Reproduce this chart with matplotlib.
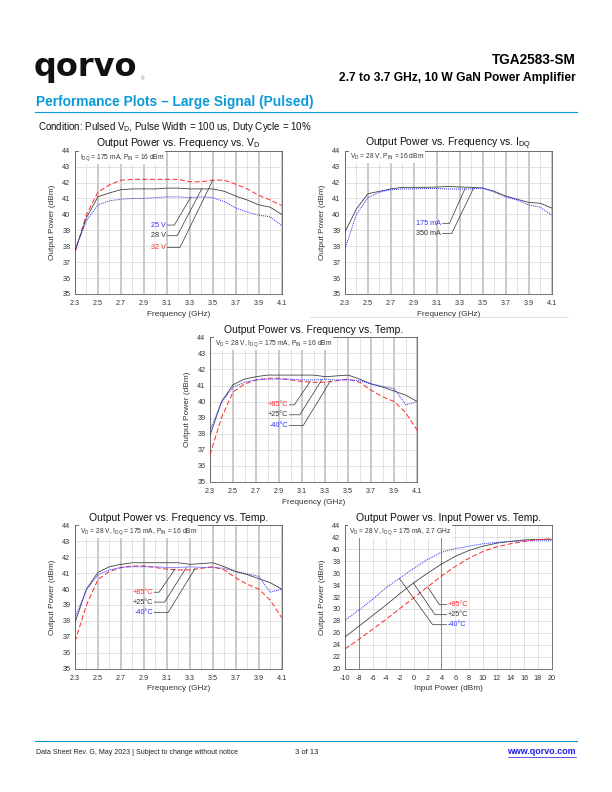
import matplotlib
matplotlib.use("Agg")
import matplotlib.pyplot as plt
from matplotlib.ticker import MultipleLocator, FixedLocator
from matplotlib.transforms import offset_copy

plt.rcParams['font.family'] = ['Liberation Sans', 'DejaVu Sans']
plt.rcParams['axes.unicode_minus'] = False
plt.rcParams['mathtext.fontset'] = 'custom'
plt.rcParams['mathtext.rm'] = 'Liberation Sans'

W, H = 612, 792

# ---------------- data ----------------
freq = [2.3, 2.4, 2.5, 2.6, 2.7, 2.8, 2.9, 3.0, 3.1, 3.2, 3.3, 3.4, 3.5, 3.6, 3.7, 3.8, 3.9, 4.0, 4.1]
freq_ticks = [2.3, 2.5, 2.7, 2.9, 3.1, 3.3, 3.5, 3.7, 3.9, 4.1]
freq_minor = [2.4, 2.6, 2.8, 3.0, 3.2, 3.4, 3.6, 3.8, 4.0]

# Chart 1: Pout vs freq vs VD
pout_25v = [37.8, 39.6, 40.6, 40.85, 40.95, 41.0, 41.0, 41.05, 41.1, 41.1, 41.05, 41.1, 41.05, 40.8, 40.4, 40.15, 39.95, 39.85, 39.3]
pout_28v = [37.7, 39.8, 41.1, 41.35, 41.55, 41.6, 41.6, 41.6, 41.65, 41.65, 41.6, 41.6, 41.6, 41.45, 41.15, 40.9, 40.6, 40.45, 40.0]
pout_32v = [37.6, 40.0, 41.4, 41.85, 42.15, 42.2, 42.2, 42.2, 42.2, 42.2, 42.05, 42.05, 42.15, 42.15, 41.9, 41.6, 41.2, 40.9, 40.55]

# Chart 2: Pout vs freq vs IDQ
pout_175ma = [37.85, 40.0, 41.05, 41.4, 41.55, 41.6, 41.6, 41.62, 41.62, 41.6, 41.58, 41.6, 41.65, 41.4, 41.1, 40.9, 40.6, 40.45, 39.95]
pout_350ma = [38.9, 40.35, 41.3, 41.45, 41.6, 41.7, 41.7, 41.7, 41.72, 41.75, 41.72, 41.7, 41.65, 41.45, 41.15, 40.95, 40.75, 40.7, 40.4]

# Charts 3/4: Pout vs freq vs temperature
pout_p85 = [36.7, 39.0, 40.6, 41.1, 41.35, 41.45, 41.45, 41.35, 41.25, 41.2, 41.2, 41.3, 41.4, 41.2, 40.7, 40.3, 40.0, 39.3, 38.2]
pout_p25 = [37.9, 40.0, 41.05, 41.4, 41.55, 41.65, 41.65, 41.65, 41.65, 41.65, 41.55, 41.6, 41.65, 41.4, 41.1, 40.9, 40.65, 40.4, 40.0]
pout_m40 = [38.2, 39.95, 40.9, 41.2, 41.35, 41.4, 41.4, 41.4, 41.35, 41.35, 41.4, 41.35, 41.35, 41.3, 41.1, 40.95, 40.8, 39.8, 40.0]

# Chart 5: Pout vs Pin vs temperature
pin = [-10, -8, -6, -4, -2, 0, 2, 4, 6, 8, 10, 12, 14, 16, 18, 20]
pin_m40 = [28.1, 29.8, 31.6, 33.6, 35.2, 36.8, 38.3, 39.5, 40.1, 40.5, 40.9, 41.15, 41.3, 41.4, 41.4, 41.4]
pin_p25 = [25.3, 27.1, 28.9, 30.7, 32.6, 34.4, 36.0, 37.5, 38.8, 39.8, 40.5, 41.0, 41.3, 41.55, 41.65, 41.65]
pin_p85 = [23.3, 24.9, 26.6, 28.3, 30.1, 31.9, 33.7, 35.5, 37.1, 38.5, 39.6, 40.4, 40.9, 41.3, 41.6, 41.75]

# series labels
vd_labels = ['25 V', '28 V', '32 V']
idq_labels = ['175 mA', '350 mA']
temp_labels = ['+85°C', '+25°C', '-40°C']

# ---------------- styles ----------------
RED = dict(color='#ff2b2b', lw=1.0, ls=(0, (5, 2.5)))
BLUE = dict(color='#2f2fff', lw=1.0, ls=(0, (1, 1)))
BLACK = dict(color='#3a3a3a', lw=0.8, ls='-')
LEAD = dict(color='#333333', lw=0.7)
QBLUE = '#0a9ad8'
TICK_FS = 7.2
LAB_FS = 8.2
TITLE_FS = 10.4
NOTE_FS = 6.6
SER_FS = 7.3

fig = plt.figure(figsize=(W / 72, H / 72), dpi=72)


def page_text(x, y, s, **kw):
    fig.text(x / W, 1 - y / H, s, **kw)


def page_line(x0, x1, y, color, lw):
    fig.add_artist(plt.Line2D([x0 / W, x1 / W], [1 - y / H, 1 - y / H],
                              transform=fig.transFigure, color=color, lw=lw))


def make_axes(l, t, r, b):
    return fig.add_axes([l / W, 1 - b / H, (r - l) / W, (b - t) / H])


def put_title(ax, title, dy=4.3):
    tr = offset_copy(ax.transAxes, fig=fig, x=0, y=dy, units='points')
    ax.text(0.5, 1.0, title, transform=tr, ha='center', va='baseline',
            fontsize=TITLE_FS, color='#111111')


def base_style(ax):
    for s in ax.spines.values():
        s.set_color('#555555')
        s.set_linewidth(0.8)
    ax.tick_params(which='both', length=0, labelsize=TICK_FS, colors='#333333')
    ax.tick_params(axis='x', pad=6)
    ax.tick_params(axis='y', pad=4.5)
    ax.set_axisbelow(True)


def freq_axes(ax, title, note):
    base_style(ax)
    ax.set_xlim(2.3, 4.1)
    ax.set_ylim(35, 44)
    ax.xaxis.set_major_locator(FixedLocator(freq_ticks))
    ax.xaxis.set_minor_locator(FixedLocator(freq_minor))
    ax.set_xticklabels([f'{v:.1f}' for v in freq_ticks])
    ax.yaxis.set_major_locator(MultipleLocator(1))
    ax.xaxis.grid(True, which='major', color='#bdbdbd', lw=1.6)
    ax.xaxis.grid(True, which='minor', color='#d2d2d2', lw=0.6)
    ax.yaxis.grid(True, which='major', color='#cfcfcf', lw=0.6)
    ax.set_xlabel('Frequency (GHz)', fontsize=LAB_FS, color='#333333', labelpad=3.5)
    ax.set_ylabel('Output Power (dBm)', fontsize=LAB_FS, color='#333333', labelpad=6)
    put_title(ax, title)
    ax.text(0.022, 0.955, note, transform=ax.transAxes, fontsize=NOTE_FS, va='center',
            ha='left', color='#333333',
            bbox=dict(facecolor='white', edgecolor='none', pad=1.0))


def leader(ax, xt, xk, y, xtip, ytip, text, color):
    ax.plot([xt, xk, xtip], [y, y, ytip], **LEAD, zorder=4)
    ax.text(xt - 0.012, y, text, fontsize=SER_FS, color=color, ha='right',
            va='center', zorder=5)


# ---------------- header ----------------
page_text(34, 76, 'qorvo', fontsize=32, fontweight='bold', family='DejaVu Sans',
          va='baseline', ha='left', color='#111111')
page_text(141, 80, '®', fontsize=4.5, color='#777777', va='baseline')
page_text(576, 60, 'TGA2583-SM', fontsize=13.6, fontweight='bold', ha='right', va='center')
page_text(576, 78, '2.7 to 3.7 GHz, 10 W GaN Power Amplifier', fontsize=12.0,
          fontweight='bold', ha='right', va='center')
page_text(36, 102, 'Performance Plots – Large Signal (Pulsed)', fontsize=13.8,
          fontweight='bold', color=QBLUE, ha='left', va='center')
page_line(35, 577, 112, QBLUE, 1.1)
page_text(38, 127, 'Condition: Pulsed V$_{\\rm D}$, Pulse Width = 100 us, Duty Cycle = 10%',
          fontsize=9.8, ha='left', va='center', color='#111111')
page_line(310, 568, 317, '#cccccc', 0.6)

# ---------------- chart 1 ----------------
ax1 = make_axes(75, 150.7, 281.7, 294)
freq_axes(ax1, 'Output Power vs. Frequency vs. V$_{\\rm D}$',
          'I$_{\\rm DQ}$ = 175 mA, P$_{\\rm IN}$ = 16 dBm')
ax1.plot(freq, pout_32v, **RED, zorder=3)
ax1.plot(freq, pout_28v, **BLACK, zorder=3)
ax1.plot(freq, pout_25v, **BLUE, zorder=3)
leader(ax1, 3.105, 3.165, 39.33, 3.31, 41.1, vd_labels[0], '#2f2fff')
leader(ax1, 3.105, 3.19, 38.66, 3.405, 41.62, vd_labels[1], '#333333')
leader(ax1, 3.105, 3.215, 37.93, 3.50, 42.15, vd_labels[2], '#ff2b2b')

# ---------------- chart 2 ----------------
ax2 = make_axes(345, 150.7, 551.7, 294)
freq_axes(ax2, 'Output Power vs. Frequency vs. I$_{\\rm DQ}$',
          'V$_{\\rm D}$ = 28 V, P$_{\\rm IN}$ = 16 dBm')
ax2.plot(freq, pout_350ma, **BLACK, zorder=3)
ax2.plot(freq, pout_175ma, **BLUE, zorder=3)
leader(ax2, 3.15, 3.21, 39.44, 3.345, 41.62, idq_labels[0], '#2f2fff')
leader(ax2, 3.15, 3.23, 38.81, 3.42, 41.66, idq_labels[1], '#333333')


def temp_chart(ax):
    freq_axes(ax, 'Output Power vs. Frequency vs. Temp.',
              'V$_{\\rm D}$ = 28 V, I$_{\\rm DQ}$ = 175 mA, P$_{\\rm IN}$ = 16 dBm')
    ax.plot(freq, pout_p25, **BLACK, zorder=3)
    ax.plot(freq, pout_p85, **RED, zorder=3)
    ax.plot(freq, pout_m40, **BLUE, zorder=3)
    leader(ax, 2.99, 3.032, 39.8, 3.17, 41.25, temp_labels[0], '#ff2b2b')
    leader(ax, 2.99, 3.08, 39.18, 3.27, 41.35, temp_labels[1], '#333333')
    leader(ax, 2.99, 3.11, 38.52, 3.345, 41.28, temp_labels[2], '#2f2fff')


# ---------------- chart 3 & 4 ----------------
ax3 = make_axes(210, 337.3, 417.3, 482)
temp_chart(ax3)
ax4 = make_axes(75, 525.3, 281.7, 668.7)
temp_chart(ax4)

# ---------------- chart 5 ----------------
ax5 = make_axes(345, 525.3, 551.7, 668.7)
base_style(ax5)
ax5.set_xlim(-10, 20)
ax5.set_ylim(20, 44)
ax5.xaxis.set_major_locator(MultipleLocator(2))
ax5.yaxis.set_major_locator(MultipleLocator(2))
ax5.grid(True, which='major', color='#cfcfcf', lw=0.6)
for xv in (-8, 4):
    ax5.axvline(xv, color='#8a8a8a', lw=1.0, zorder=1)
ax5.set_xlabel('Input Power (dBm)', fontsize=LAB_FS, color='#333333', labelpad=3.5)
ax5.set_ylabel('Output Power (dBm)', fontsize=LAB_FS, color='#333333', labelpad=6)
put_title(ax5, 'Output Power vs. Input Power vs. Temp.', dy=4.0)
ax5.text(0.018, 0.955, 'V$_{\\rm D}$ = 28 V, I$_{\\rm DQ}$ = 175 mA, 2.7 GHz',
         transform=ax5.transAxes, fontsize=NOTE_FS, va='center', ha='left', color='#333333',
         bbox=dict(facecolor='white', edgecolor='none', pad=1.0), zorder=6)
ax5.plot(pin, pin_m40, **BLUE, zorder=3)
ax5.plot(pin, pin_p25, **BLACK, zorder=3)
ax5.plot(pin, pin_p85, **RED, zorder=3)
for (xk, y, xtip, ytip, lab, col) in [
        (3.69, 30.71, 2.0, 33.7, temp_labels[0], '#ff2b2b'),
        (3.06, 29.04, -0.08, 34.35, temp_labels[1], '#333333'),
        (2.73, 27.36, -2.11, 35.1, temp_labels[2], '#2f2fff')]:
    ax5.plot([4.75, xk, xtip], [y, y, ytip], **LEAD, zorder=4)
    ax5.text(4.85, y, lab, fontsize=SER_FS, color=col, ha='left', va='center', zorder=5)

# ---------------- footer ----------------
page_line(35, 577, 741, QBLUE, 1.1)
page_text(36, 752, 'Data Sheet Rev. G, May 2023 | Subject to change without notice',
          fontsize=7.0, ha='left', va='center', color='#222222')
page_text(307, 752, '3 of 13', fontsize=7.6, ha='center', va='center', color='#222222')
page_text(576, 752, 'www.qorvo.com', fontsize=8.9, fontweight='bold', ha='right',
          va='center', color='#1a1aee')
page_line(508, 576, 757, '#1a1aee', 0.7)

fig.savefig('out.png', dpi=72)
